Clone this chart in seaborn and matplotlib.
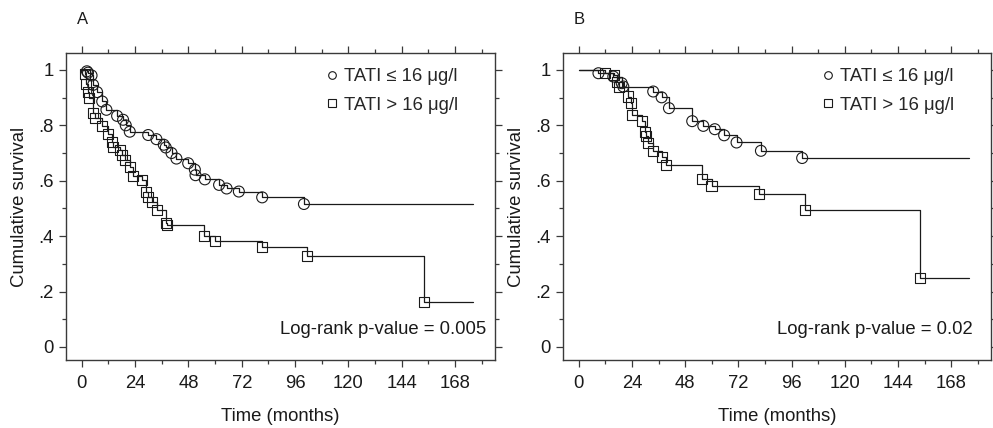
import numpy as np
import pandas as pd
import matplotlib
matplotlib.use("Agg")
import matplotlib.pyplot as plt
from matplotlib.lines import Line2D
from matplotlib.ticker import MultipleLocator, FixedLocator
import seaborn as sns

# ---------------- data ----------------
# Panel A, TATI <= 16 ug/l : marker times / survival
a_low_t = [2.3, 2.8, 4.4, 5.1, 6.9, 9.2, 11.1, 15.9, 18.6, 19.8, 21.6, 29.9, 33.6, 36.9,
           37.8, 40.4, 42.6, 47.9, 50.9, 51.2, 55.4, 61.8, 65.2, 70.7, 81.2, 100.0]
a_low_s = [0.995, 0.99, 0.98, 0.946, 0.92, 0.886, 0.856, 0.834, 0.82, 0.80, 0.777, 0.765,
           0.75, 0.73, 0.72, 0.70, 0.68, 0.663, 0.64, 0.62, 0.605, 0.585, 0.572, 0.561,
           0.54, 0.516]
# Panel A, TATI > 16 ug/l
a_high_t = [1.3, 2.1, 2.8, 3.3, 5.1, 5.9, 8.9, 11.6, 13.4, 14.1, 17.1, 18.3, 19.4, 21.9,
            23.1, 27.3, 29.1, 29.9, 31.4, 33.9, 37.8, 38.3, 55.2, 59.9, 81.0, 101.5, 154.0]
a_high_s = [0.985, 0.95, 0.92, 0.897, 0.843, 0.825, 0.798, 0.769, 0.741, 0.723, 0.711,
            0.693, 0.675, 0.651, 0.617, 0.603, 0.561, 0.543, 0.525, 0.495, 0.447, 0.441,
            0.402, 0.384, 0.362, 0.329, 0.162]
# Panel B, TATI <= 16 ug/l
b_low_t = [8.9, 15.6, 19.4, 20.1, 33.6, 37.4, 40.7, 51.2, 56.2, 61.4, 65.6, 71.2, 82.2, 100.8]
b_low_s = [0.988, 0.976, 0.952, 0.94, 0.922, 0.901, 0.862, 0.815, 0.798, 0.786, 0.764,
           0.738, 0.708, 0.682]
# Panel B, TATI > 16 ug/l
b_high_t = [11.9, 15.9, 17.1, 18.2, 22.4, 23.6, 24.2, 28.4, 29.9, 30.3, 31.1, 33.6, 37.4,
            39.2, 55.4, 59.9, 81.2, 102.3, 154.0]
b_high_s = [0.99, 0.982, 0.958, 0.94, 0.904, 0.88, 0.838, 0.817, 0.777, 0.762, 0.735,
            0.709, 0.687, 0.657, 0.605, 0.58, 0.552, 0.495, 0.25]
end_time = 176.0

legend_labels = ["TATI \u2264 16 \u03bcg/l", "TATI > 16 \u03bcg/l"]
panel_labels = ["A", "B"]
pvalue_texts = ["Log-rank p-value = 0.005", "Log-rank p-value = 0.02"]
x_ticks = [0, 24, 48, 72, 96, 120, 144, 168]
y_ticks = [0, 0.2, 0.4, 0.6, 0.8, 1.0]
y_tick_labels = ["0", ".2", ".4", ".6", ".8", "1"]

# ---------------- style ----------------
sns.set_theme(style="white")
plt.rcParams["font.family"] = ["Liberation Sans", "DejaVu Sans"]
FS = 13.3
ink = "#1a1a1a"
spine_col = "#3a3a3a"

fig = plt.figure(figsize=(9.93, 4.28), dpi=100)
axA = fig.add_axes([66 / 993, 1 - 360 / 428, (495 - 66) / 993, (360 - 53) / 428])
axB = fig.add_axes([563 / 993, 1 - 360 / 428, (991 - 563) / 993, (360 - 53) / 428])


def curve_frame(t, s):
    tt = [0.0] + list(t) + [end_time]
    ss = [1.0] + list(s) + [s[-1]]
    return pd.DataFrame({"t": tt, "s": ss})


def draw_panel(ax, low_t, low_s, high_t, high_s, label, ptext, ptext_x):
    for (t, s, mk, ms) in [(low_t, low_s, "o", 62), (high_t, high_s, "s", 52)]:
        df = curve_frame(t, s)
        sns.lineplot(data=df, x="t", y="s", ax=ax, drawstyle="steps-post",
                     estimator=None, sort=False, color=ink, linewidth=0.9)
        dm = pd.DataFrame({"t": t, "s": s})
        sns.scatterplot(data=dm, x="t", y="s", ax=ax, marker=mk, s=ms,
                        facecolor="none", edgecolor=ink, linewidth=0.8, zorder=3)

    ax.set_xlim(-7.1, 186)
    ax.set_ylim(-0.047, 1.061)
    ax.xaxis.set_major_locator(FixedLocator(x_ticks))
    ax.xaxis.set_minor_locator(MultipleLocator(12))
    ax.yaxis.set_major_locator(FixedLocator(y_ticks))
    ax.set_yticklabels(y_tick_labels)
    ax.yaxis.set_minor_locator(MultipleLocator(0.1))
    ax.tick_params(axis="both", which="both", direction="out", top=True, right=True,
                   bottom=True, left=True, color=spine_col, labelsize=FS,
                   labelcolor=ink, width=0.9)
    ax.tick_params(which="major", length=5)
    ax.tick_params(which="minor", length=3)
    ax.tick_params(axis="x", pad=6)
    ax.tick_params(axis="y", pad=4)
    for sp in ax.spines.values():
        sp.set_visible(True)
        sp.set_color(spine_col)
        sp.set_linewidth(1.0)
    ax.set_xlabel("Time (months)", fontsize=FS, color=ink, labelpad=11)
    ax.set_ylabel("Cumulative survival", fontsize=FS, color=ink, labelpad=7)
    ax.grid(False)

    handles = [Line2D([], [], linestyle="none", marker="o", markersize=5.5,
                      markerfacecolor="none", markeredgecolor=ink, markeredgewidth=0.8),
               Line2D([], [], linestyle="none", marker="s", markersize=5.5,
                      markerfacecolor="none", markeredgecolor=ink, markeredgewidth=0.8)]
    ax.legend(handles, legend_labels, loc="upper left", bbox_to_anchor=(0.607, 0.95),
              frameon=False, fontsize=FS, handlelength=0.6, handletextpad=0.35,
              labelspacing=0.62, borderpad=0, borderaxespad=0)

    ax.text(ptext_x, 0.098, ptext, transform=ax.transAxes, ha="right", va="center",
            fontsize=FS, color=ink)
    ax.text(0.025, 1.11, label, transform=ax.transAxes, ha="left", va="center",
            fontsize=12, color=ink)


draw_panel(axA, a_low_t, a_low_s, a_high_t, a_high_s, panel_labels[0], pvalue_texts[0], 0.979)
draw_panel(axB, b_low_t, b_low_s, b_high_t, b_high_s, panel_labels[1], pvalue_texts[1], 0.958)

fig.savefig("out.png", dpi=100)
